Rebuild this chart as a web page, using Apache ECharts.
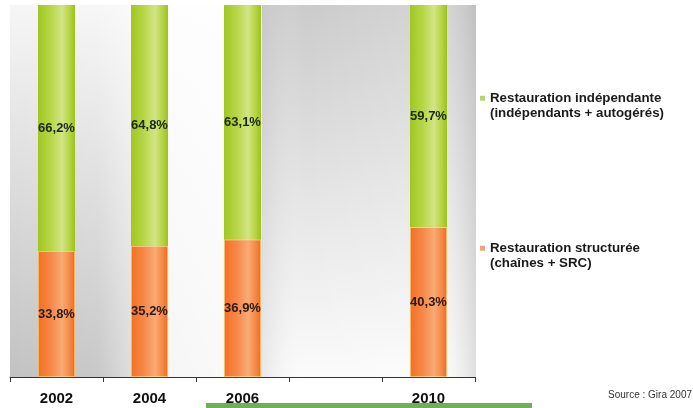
<!DOCTYPE html>
<html>
<head>
<meta charset="utf-8">
<script src="https://cdn.jsdelivr.net/npm/echarts@6/dist/echarts.min.js"></script>
<style>html,body{margin:0;padding:0;background:#fff}#c{width:693px;height:408px}</style>
</head>
<body>
<div id="c"></div>
<script>
const categories = ['2002', '2004', '2006', '', '2010'];
const independante = [66.2, 64.8, 63.1, null, 59.7];
const structuree = [33.8, 35.2, 36.9, null, 40.3];
const nameIndep = 'Restauration indépendante\n(indépendants + autogérés)';
const nameStruct = 'Restauration structurée\n(chaînes + SRC)';
const sourceText = 'Source : Gira 2007';

const chart = echarts.init(document.getElementById('c'), null, {renderer: 'canvas'});
const G = echarts.graphic.LinearGradient;
const fmt = p => p.value.toFixed(1).replace('.', ',') + '%';
const font = 'Liberation Sans, Arial, sans-serif';
const legendText = {fontSize: 13.3, fontWeight: 'bold', color: '#1a1a1a', fontFamily: font, lineHeight: 15.5};

chart.setOption({
  animation: false,
  backgroundColor: '#ffffff',
  grid: {left: 10, right: 218, top: 5, bottom: 31},
  xAxis: {
    type: 'category', data: categories, boundaryGap: true,
    axisLine: {lineStyle: {color: '#333', width: 1}},
    axisTick: {show: true, length: 5, lineStyle: {color: '#333'}},
    axisLabel: {margin: 14, color: '#111', fontWeight: 'bold', fontSize: 15, fontFamily: font}
  },
  yAxis: {type: 'value', min: 0, max: 100, show: false, splitLine: {show: false}},
  legend: [
    {data: [{name: nameStruct, itemStyle: {color: '#f5a07a', borderWidth: 0}}], left: 480, top: 225, padding: 0, icon: 'rect', itemWidth: 5, itemHeight: 5,
     formatter: n => ' \n' + n, textStyle: legendText},
    {data: [{name: nameIndep, itemStyle: {color: '#b6d66a', borderWidth: 0}}], left: 480, top: 75, padding: 0, icon: 'rect', itemWidth: 5, itemHeight: 5,
     formatter: n => ' \n' + n, textStyle: legendText}
  ],
  graphic: [
    {type: 'rect', z: -10, silent: true, shape: {x: 10, y: 5, width: 252, height: 372},
     style: {fill: new G(0, 0, 0, 1, [{offset: 0, color: '#f6f6f6'}, {offset: 0.45, color: '#dedede'}, {offset: 1, color: '#c2c2c2'}])}},
    {type: 'rect', z: -9, silent: true, shape: {x: 10, y: 5, width: 252, height: 372},
     style: {fill: new G(0, 0, 1, 0, [{offset: 0, color: 'rgba(255,255,255,0)'}, {offset: 0.35, color: 'rgba(255,255,255,0.1)'}, {offset: 0.5, color: 'rgba(255,255,255,0.5)'}, {offset: 0.62, color: 'rgba(255,255,255,0.85)'}, {offset: 0.85, color: 'rgba(255,255,255,0.9)'}, {offset: 1, color: 'rgba(245,245,245,0.6)'}])}},
    {type: 'rect', z: -10, silent: true, shape: {x: 262, y: 5, width: 214, height: 372},
     style: {fill: new G(0, 0, 0, 1, [{offset: 0, color: '#cbcbcb'}, {offset: 0.5, color: '#e4e4e4'}, {offset: 1, color: '#fbfbfb'}])}},
    {type: 'rect', z: -9, silent: true, shape: {x: 262, y: 5, width: 214, height: 372},
     style: {fill: new G(0, 0, 1, 0, [{offset: 0, color: 'rgba(190,190,190,0.3)'}, {offset: 0.2, color: 'rgba(255,255,255,0)'}, {offset: 0.85, color: 'rgba(255,255,255,0.2)'}, {offset: 1, color: 'rgba(170,170,170,0.35)'}])}},
    {type: 'rect', silent: true, shape: {x: 206, y: 403, width: 326, height: 5}, style: {fill: '#6cb254'}},
    {type: 'text', silent: true, style: {x: 692, y: 395, text: sourceText, align: 'right', verticalAlign: 'middle',
     fontSize: 10, fill: '#333', fontFamily: 'Liberation Sans Narrow, Liberation Sans, Arial, sans-serif'}}
  ],
  series: [
    {name: nameStruct, type: 'bar', stack: 't', data: structuree, barWidth: 37,
     itemStyle: {color: new G(0, 0, 1, 0, [{offset: 0, color: '#f37020'}, {offset: 0.35, color: '#f6884a'}, {offset: 0.65, color: '#f9aa74'}, {offset: 0.85, color: '#f58a48'}, {offset: 1, color: '#ef6a1a'}]),
       borderColor: '#f6e48a', borderWidth: 0.6},
     label: {show: true, position: 'inside', formatter: fmt, fontSize: 13, fontWeight: 'bold', color: '#2a1a10', fontFamily: font}},
    {name: nameIndep, type: 'bar', stack: 't', data: independante, barWidth: 37,
     itemStyle: {color: new G(0, 0, 1, 0, [{offset: 0, color: '#a0c622'}, {offset: 0.35, color: '#b8d648'}, {offset: 0.65, color: '#d2e586'}, {offset: 0.85, color: '#b6d444'}, {offset: 1, color: '#9cc21c'}])},
     label: {show: true, position: 'inside', formatter: fmt, fontSize: 13, fontWeight: 'bold', color: '#1a2a10', fontFamily: font}}
  ]
});
</script>
</body>
</html>
